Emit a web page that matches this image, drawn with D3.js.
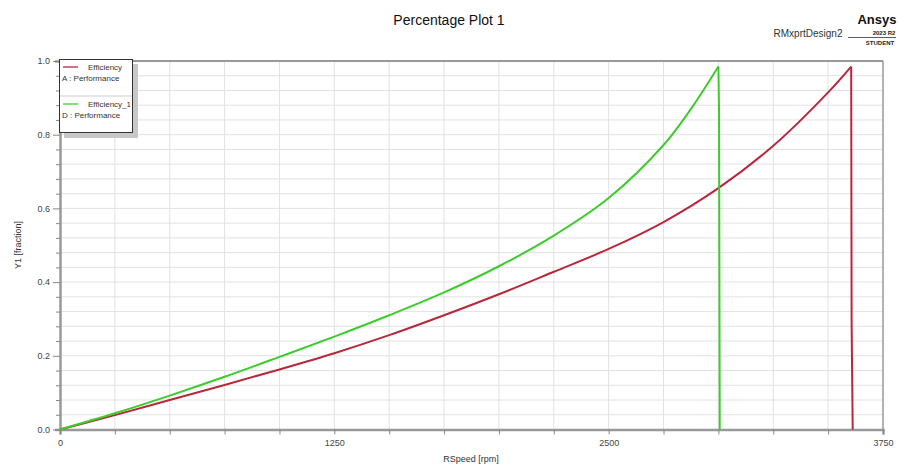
<!DOCTYPE html>
<html>
<head>
<meta charset="utf-8">
<script src="https://cdn.jsdelivr.net/npm/d3@7"></script>
<style>
  html, body { margin: 0; padding: 0; background: #fff; }
  svg { display: block; font-family: "Liberation Sans", Arial, sans-serif; }
</style>
</head>
<body>
<svg id="chart" width="899" height="466"></svg>
<script>
// ---- data ----
const effRpm  = [0, 250, 500, 750, 1000, 1250, 1500, 1750, 2000, 2250, 2500, 2750, 3000, 3250, 3500, 3605, 3607, 3612];
const effVal  = [0, 0.039, 0.080, 0.121, 0.163, 0.207, 0.256, 0.310, 0.367, 0.428, 0.490, 0.563, 0.655, 0.770, 0.915, 0.985, 0.29, 0];
const eff1Rpm = [0, 250, 500, 750, 1000, 1250, 1500, 1750, 2000, 2250, 2500, 2750, 2875, 3000, 3003, 3006];
const eff1Val = [0, 0.044, 0.092, 0.143, 0.197, 0.252, 0.310, 0.372, 0.443, 0.526, 0.628, 0.772, 0.870, 0.985, 0.86, 0];
const xTicks = [0, 1250, 2500, 3750];
const yTicks = [0.0, 0.2, 0.4, 0.6, 0.8, 1.0];
const seriesNames = ["Efficiency", "Efficiency_1"];
const seriesSub = ["A : Performance", "D : Performance"];
const seriesColors = ["#b8283c", "#3ccc2c"];

// ---- layout ----
const svg = d3.select("#chart");
const L = 60, R = 883, T = 61, B = 429.5;
const x = d3.scaleLinear().domain([0, 3750]).range([L, R]);
const y = d3.scaleLinear().domain([0, 1]).range([B, T]);

// grid
const gGrid = svg.append("g");
gGrid.selectAll("line.v").data(d3.range(250, 3750, 250)).join("line")
  .attr("x1", d => x(d)).attr("x2", d => x(d)).attr("y1", T).attr("y2", B)
  .attr("stroke", "#e2e2e2").attr("stroke-width", 1);
gGrid.selectAll("line.h").data(d3.range(1, 25).map(i => i * 0.04)).join("line")
  .attr("x1", L).attr("x2", R).attr("y1", d => y(d)).attr("y2", d => y(d))
  .attr("stroke", "#e2e2e2").attr("stroke-width", 1);

// frame
svg.append("line").attr("x1", L).attr("x2", R).attr("y1", T).attr("y2", T).attr("stroke", "#999").attr("stroke-width", 2);
svg.append("line").attr("x1", R).attr("x2", R).attr("y1", T).attr("y2", B).attr("stroke", "#999").attr("stroke-width", 1.5);

// axes
const xAxis = d3.axisBottom(x).tickValues(d3.range(0, 3751, 250)).tickSize(5)
  .tickFormat(d => xTicks.includes(d) ? String(d) : "");
const gx = svg.append("g").attr("transform", `translate(0,${B})`).call(xAxis);
gx.select(".domain").attr("stroke", "#999").attr("stroke-width", 2.5);
gx.selectAll(".tick line").attr("stroke", "#888");
gx.selectAll(".tick text").attr("fill", "#444").attr("font-size", 9).attr("dy", "0.9em");

const yAxis = d3.axisLeft(y).tickValues(d3.range(0, 26).map(i => i * 0.04)).tickSize(5)
  .tickFormat(d => yTicks.some(t => Math.abs(t - d) < 1e-6) ? d.toFixed(1) : "");
const gy = svg.append("g").attr("transform", `translate(${L},0)`).call(yAxis);
gy.select(".domain").attr("stroke", "#999").attr("stroke-width", 2.5);
gy.selectAll(".tick line").attr("stroke", "#888")
  .attr("x2", d => yTicks.some(t => Math.abs(t - d) < 1e-6) ? -7 : -4);
gy.selectAll(".tick text").attr("fill", "#444").attr("font-size", 9).attr("x", -10);

// lines: smooth rise up to the peak, straight drop after it
const smooth = d3.line().x(d => x(d[0])).y(d => y(d[1])).curve(d3.curveCatmullRom.alpha(0.5));
const straight = d3.line().x(d => x(d[0])).y(d => y(d[1]));
function drawSeries(rpm, val, color) {
  const pts = rpm.map((r, i) => [r, val[i]]);
  const pk = d3.maxIndex(val);
  svg.append("path").datum(pts.slice(0, pk + 1)).attr("d", smooth).attr("fill", "none")
    .attr("stroke", color).attr("stroke-width", 2);
  svg.append("path").datum(pts.slice(pk)).attr("d", straight).attr("fill", "none")
    .attr("stroke", color).attr("stroke-width", 2).attr("stroke-linejoin", "round");
}
drawSeries(effRpm, effVal, seriesColors[0]);
drawSeries(eff1Rpm, eff1Val, seriesColors[1]);

// titles
svg.append("text").attr("x", 449).attr("y", 25).attr("text-anchor", "middle")
  .attr("font-size", 14).attr("fill", "#111").text("Percentage Plot 1");
svg.append("text").attr("x", 808).attr("y", 37).attr("text-anchor", "middle")
  .attr("font-size", 10).attr("fill", "#333").text("RMxprtDesign2");
svg.append("text").attr("x", 877).attr("y", 24).attr("text-anchor", "middle")
  .attr("font-size", 13).attr("font-weight", "bold").attr("fill", "#111").text("Ansys");
svg.append("text").attr("x", 884).attr("y", 35).attr("text-anchor", "middle")
  .attr("font-size", 6).attr("font-weight", "bold").attr("fill", "#222").text("2023 R2");
svg.append("line").attr("x1", 848).attr("x2", 896).attr("y1", 37.5).attr("y2", 37.5).attr("stroke", "#333").attr("stroke-width", 0.8);
svg.append("text").attr("x", 880).attr("y", 45).attr("text-anchor", "middle")
  .attr("font-size", 6).attr("font-weight", "bold").attr("fill", "#222").text("STUDENT");

svg.append("text").attr("x", 471).attr("y", 462).attr("text-anchor", "middle")
  .attr("font-size", 9).attr("fill", "#333").text("RSpeed [rpm]");
svg.append("text").attr("transform", "translate(21,245) rotate(-90)").attr("text-anchor", "middle")
  .attr("font-size", 9).attr("fill", "#333").text("Y1 [fraction]");

// legend
const lg = svg.append("g");
lg.append("rect").attr("x", 64).attr("y", 64).attr("width", 74).attr("height", 74).attr("fill", "#c8c8c8");
lg.append("rect").attr("x", 59.5).attr("y", 59.5).attr("width", 73).attr("height", 73)
  .attr("fill", "#fff").attr("stroke", "#333").attr("stroke-width", 1);
lg.append("line").attr("x1", 60).attr("x2", 132).attr("y1", 96).attr("y2", 96).attr("stroke", "#ccc");
seriesNames.forEach((name, i) => {
  const oy = 67 + i * 37;
  lg.append("line").attr("x1", 63).attr("x2", 78).attr("y1", oy).attr("y2", oy)
    .attr("stroke", seriesColors[i]).attr("stroke-width", 1.3);
  lg.append("text").attr("x", 88).attr("y", oy + 3).attr("font-size", 8).attr("fill", "#333").text(name);
  lg.append("text").attr("x", 62).attr("y", oy + 14).attr("font-size", 8).attr("fill", "#333").text(seriesSub[i]);
});
</script>
</body>
</html>
